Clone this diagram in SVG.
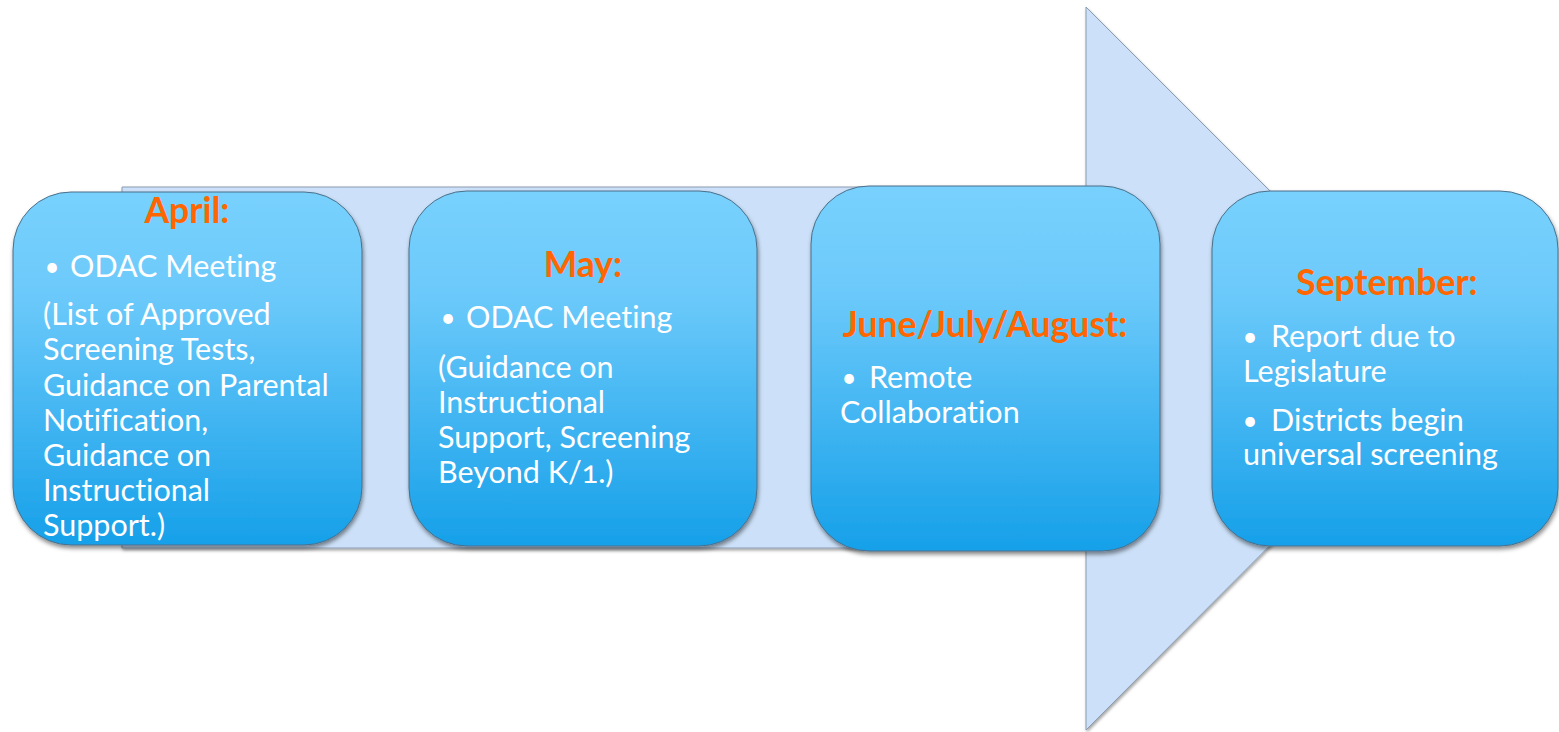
<svg xmlns="http://www.w3.org/2000/svg" width="1559" height="732" viewBox="0 0 1559 732">
  <defs>
    <linearGradient id="boxFill" x1="0" y1="0" x2="0" y2="1">
      <stop offset="0" stop-color="#78D1FD"/>
      <stop offset="0.3" stop-color="#6BC9FA"/>
      <stop offset="1" stop-color="#16A0E9"/>
    </linearGradient>
    <filter id="shadow" x="-10%" y="-10%" width="120%" height="125%">
      <feDropShadow dx="1" dy="3" stdDeviation="2" flood-color="#000" flood-opacity="0.45"/>
    </filter>
    <filter id="arrowShadow" x="-5%" y="-5%" width="110%" height="110%">
      <feDropShadow dx="1" dy="2" stdDeviation="1.5" flood-color="#000" flood-opacity="0.35"/>
    </filter>
  </defs>
  <style>
    text { font-variant-ligatures: none; }
    .box { fill: url(#boxFill); stroke: #4A6F8A; stroke-width: 1; filter: url(#shadow); }
    .title { font-family: Lato, "Open Sans", sans-serif; font-weight: bold; font-size: 35.5px; fill: #FF6600; text-anchor: middle; }
    .body { font-family: Lato, "Open Sans", sans-serif; font-size: 30.5px; fill: #FFFFFF; }
    .bullet { text-anchor: middle; font-size: 26px; }
    .onum { font-variant-numeric: oldstyle-nums; }
  </style>

  <rect width="1559" height="732" fill="#FFFFFF"/>

  <!-- Timeline arrow behind the boxes -->
  <g id="connectors">
    <polygon points="122,187 1086,187 1086,7 1447,368 1086,730 1086,548 122,548"
             fill="#CCE1F9" stroke="#8A9BB0" stroke-width="1" filter="url(#arrowShadow)"/>
  </g>

  <!-- April -->
  <g id="node-april">
    <rect class="box" x="13" y="192" width="349" height="353" rx="58" ry="58"/>
    <text class="title" x="187" y="223">April:</text>
    <text class="body bullet" x="52" y="276">•</text>
    <text class="body" x="70" y="277">ODAC Meeting</text>
    <text class="body" x="43" y="325">(List of Approved</text>
    <text class="body" x="43" y="360">Screening Tests,</text>
    <text class="body" x="43" y="396">Guidance on Parental</text>
    <text class="body" x="43" y="431">Notification,</text>
    <text class="body" x="43" y="466">Guidance on</text>
    <text class="body" x="43" y="501">Instructional</text>
    <text class="body" x="43" y="536">Support.)</text>
  </g>

  <!-- May -->
  <g id="node-may">
    <rect class="box" x="409" y="191" width="348" height="355" rx="58" ry="58"/>
    <text class="title" x="583" y="277">May:</text>
    <text class="body bullet" x="448" y="327">•</text>
    <text class="body" x="466" y="328">ODAC Meeting</text>
    <text class="body" x="438" y="378">(Guidance on</text>
    <text class="body" x="438" y="413">Instructional</text>
    <text class="body" x="438" y="448">Support, Screening</text>
    <text class="body onum" x="438" y="483">Beyond K/1.)</text>
  </g>

  <!-- June/July/August -->
  <g id="node-summer">
    <rect class="box" x="811" y="186" width="349" height="365" rx="58" ry="58"/>
    <text class="title" x="985" y="337">June/July/August:</text>
    <text class="body bullet" x="849" y="387">•</text>
    <text class="body" x="869" y="388">Remote</text>
    <text class="body" x="840" y="423">Collaboration</text>
  </g>

  <!-- September -->
  <g id="node-september">
    <rect class="box" x="1212" y="191" width="346" height="355" rx="58" ry="58"/>
    <text class="title" x="1387" y="295">September:</text>
    <text class="body bullet" x="1250" y="346">•</text>
    <text class="body" x="1271" y="347">Report due to</text>
    <text class="body" x="1243" y="382">Legislature</text>
    <text class="body bullet" x="1250" y="430">•</text>
    <text class="body" x="1271" y="431">Districts begin</text>
    <text class="body" x="1243" y="465">universal screening</text>
  </g>
</svg>
